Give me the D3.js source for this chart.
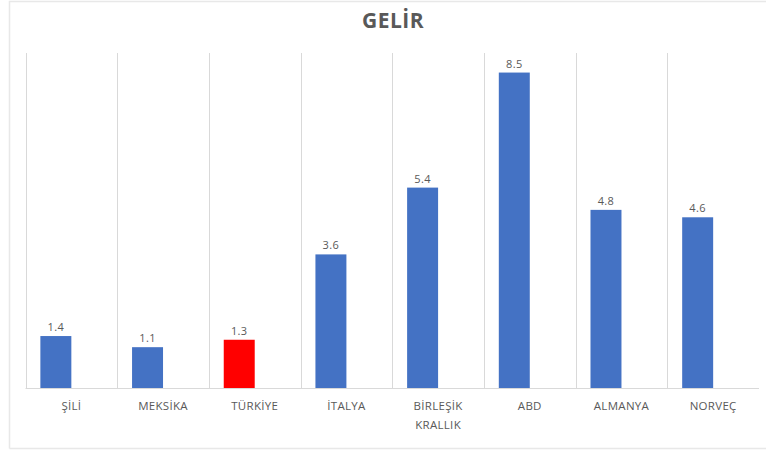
<!DOCTYPE html>
<html>
<head>
<meta charset="utf-8">
<script src="https://cdn.jsdelivr.net/npm/d3@7"></script>
<style>
   body { margin: 0; background: #fff; }
   text { font-family: "Open Sans", sans-serif; fill: #595959; }
</style>
</head>
<body>
<div id="chart"></div>
<script>
var categories = ["ŞİLİ", "MEKSİKA", "TÜRKİYE", "İTALYA", "BİRLEŞİK KRALLIK", "ABD", "ALMANYA", "NORVEÇ"];
var values = [1.4, 1.1, 1.3, 3.6, 5.4, 8.5, 4.8, 4.6];
var highlight = "TÜRKİYE";
var title = "GELİR";
// second series slot is empty in the original, bars sit in the first slot
var slots = ["gelir", "empty"];

var w = 766;
var h = 452;
var padLeft = 25.5, padRight = 759, plotTop = 54, plotBottom = 388;

var svg = d3.select("#chart")
   .append("svg")
   .attr("width", w)
   .attr("height", h);

// outer chart border
svg.append("path")
   .attr("d", "M9.5,448.5 L9.5,1.5 L766,1.5 M9.5,448.5 L766,448.5")
   .attr("fill", "none")
   .attr("stroke", "#e8e8e8")
   .attr("stroke-width", 1.5);

var xScale = d3.scaleBand()
   .domain(categories)
   .range([padLeft, padRight])
   .padding(0);

var slotScale = d3.scaleBand()
   .domain(slots)
   .range([0, xScale.bandwidth()])
   .paddingInner(0)
   .paddingOuter(0.48);

var yScale = d3.scaleLinear()
   .domain([0, 9])
   .range([plotBottom, plotTop]);

//vertical gridlines between categories
svg.selectAll(".grid")
   .data(categories)
   .enter()
   .append("line")
   .attr("class", "grid")
   .attr("x1", function(d) { return Math.round(xScale(d)) + 0.5; })
   .attr("x2", function(d) { return Math.round(xScale(d)) + 0.5; })
   .attr("y1", plotTop - 1)
   .attr("y2", plotBottom)
   .attr("stroke", "#d9d9d9");

//bars
svg.selectAll(".bar")
   .data(values)
   .enter()
   .append("rect")
   .attr("class", "bar")
   .attr("x", function(d, i) { return xScale(categories[i]) + slotScale("gelir"); })
   .attr("y", function(d) { return yScale(d); })
   .attr("width", slotScale.bandwidth())
   .attr("height", function(d) { return plotBottom - yScale(d); })
   .attr("fill", function(d, i) { return categories[i] == highlight ? "#ff0000" : "#4472c4"; });

//value labels
svg.selectAll(".val")
   .data(values)
   .enter()
   .append("text")
   .attr("class", "val")
   .attr("x", function(d, i) { return xScale(categories[i]) + slotScale("gelir") + slotScale.bandwidth() / 2; })
   .attr("y", function(d) { return yScale(d) - 5; })
   .attr("text-anchor", "middle")
   .attr("font-size", "11px")
   .attr("letter-spacing", "0.4px")
   .text(function(d) { return d.toFixed(1); });

//x axis
var xAxis = d3.axisBottom(xScale).tickSize(0).tickPadding(0);
var gx = svg.append("g")
   .attr("transform", "translate(0," + plotBottom + ")")
   .call(xAxis);
gx.select(".domain").attr("stroke", "#d9d9d9").attr("d", "M" + padLeft + ",0.5H" + padRight);
gx.selectAll(".tick text")
   .attr("font-size", "11.5px")
   .attr("font-family", "Open Sans, sans-serif")
   .attr("fill", "#595959")
   .attr("letter-spacing", "0.3px")
   .attr("dy", null)
   .attr("y", 22)
   .each(function(d) {
      var words = d.split(" ");
      if (words.length < 2) return;
      var t = d3.select(this).text(null);
      words.forEach(function(wd, k) {
         t.append("tspan").attr("x", 0).attr("y", 22 + k * 19).text(wd);
      });
   });

//title
svg.append("text")
   .attr("x", 393)
   .attr("y", 28)
   .attr("text-anchor", "middle")
   .attr("font-size", "21px")
   .attr("font-weight", "bold")
   .attr("letter-spacing", "0.5px")
   .text(title);
</script>
</body>
</html>
